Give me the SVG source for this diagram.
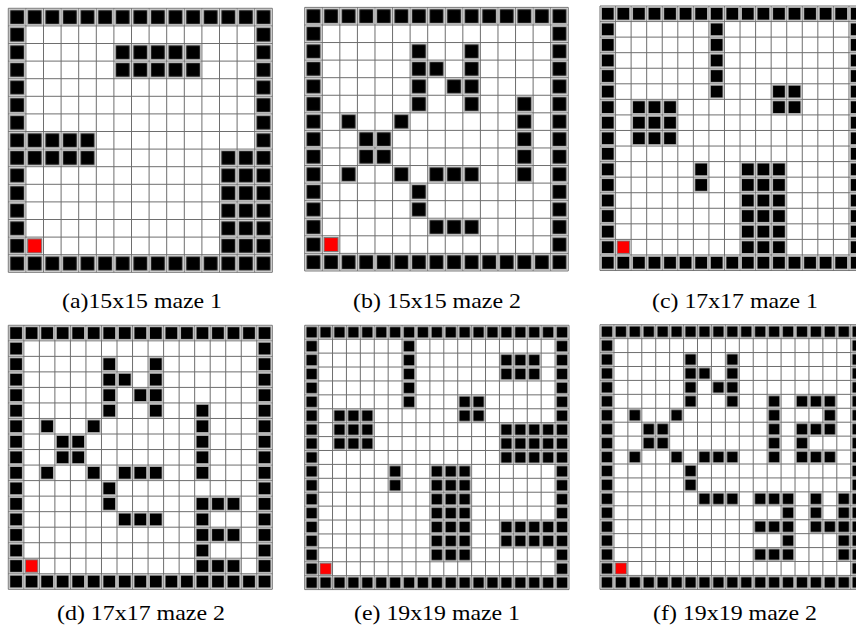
<svg xmlns="http://www.w3.org/2000/svg" xmlns:xlink="http://www.w3.org/1999/xlink" width="856" height="640" viewBox="0 0 856 640">
<style>
.blk{fill:url(#b)}
.red{fill:#ff0000;stroke:#7a7a7a;stroke-width:0.06}
.cap{font-family:"Liberation Serif","Times New Roman",serif;font-size:22px;fill:#000;text-anchor:middle}
</style>
<defs>
<pattern id="b" patternUnits="userSpaceOnUse" x="0" y="0" width="1" height="1">
<rect x="0.08" y="0.08" width="0.84" height="0.84" fill="#000" stroke="#b4b4b4" stroke-width="0.08"/>
</pattern>
<path id="g15" fill="none" stroke="#6e6e6e" stroke-width="1" vector-effect="non-scaling-stroke" d="M0 0V15M1 0V15M2 0V15M3 0V15M4 0V15M5 0V15M6 0V15M7 0V15M8 0V15M9 0V15M10 0V15M11 0V15M12 0V15M13 0V15M14 0V15M15 0V15M0 0H15M0 1H15M0 2H15M0 3H15M0 4H15M0 5H15M0 6H15M0 7H15M0 8H15M0 9H15M0 10H15M0 11H15M0 12H15M0 13H15M0 14H15M0 15H15"/>
<path id="g17" fill="none" stroke="#6e6e6e" stroke-width="1" vector-effect="non-scaling-stroke" d="M0 0V17M1 0V17M2 0V17M3 0V17M4 0V17M5 0V17M6 0V17M7 0V17M8 0V17M9 0V17M10 0V17M11 0V17M12 0V17M13 0V17M14 0V17M15 0V17M16 0V17M17 0V17M0 0H17M0 1H17M0 2H17M0 3H17M0 4H17M0 5H17M0 6H17M0 7H17M0 8H17M0 9H17M0 10H17M0 11H17M0 12H17M0 13H17M0 14H17M0 15H17M0 16H17M0 17H17"/>
<path id="g19" fill="none" stroke="#6e6e6e" stroke-width="1" vector-effect="non-scaling-stroke" d="M0 0V19M1 0V19M2 0V19M3 0V19M4 0V19M5 0V19M6 0V19M7 0V19M8 0V19M9 0V19M10 0V19M11 0V19M12 0V19M13 0V19M14 0V19M15 0V19M16 0V19M17 0V19M18 0V19M19 0V19M0 0H19M0 1H19M0 2H19M0 3H19M0 4H19M0 5H19M0 6H19M0 7H19M0 8H19M0 9H19M0 10H19M0 11H19M0 12H19M0 13H19M0 14H19M0 15H19M0 16H19M0 17H19M0 18H19M0 19H19"/>
</defs>
<rect x="0" y="0" width="856" height="640" fill="#fff"/>

<g id="maze-a" transform="translate(8.3 8.3) scale(17.6)">
<use href="#g15" xlink:href="#g15"/>
<g class="blk">
<rect x="0" y="0" width="15" height="1"/><rect x="0" y="14" width="15" height="1"/>
<rect x="0" y="1" width="1" height="13"/><rect x="14" y="1" width="1" height="13"/>
<rect x="6" y="2" width="5" height="2"/>
<rect x="1" y="7" width="4" height="2"/>
<rect x="12" y="8" width="2" height="6"/>
</g>
<rect class="red" x="1.1" y="13.1" width="0.8" height="0.8"/>
</g>

<g id="maze-b" transform="translate(304.7 7.4) scale(17.57)">
<use href="#g15" xlink:href="#g15"/>
<g class="blk">
<rect x="0" y="0" width="15" height="1"/><rect x="0" y="14" width="15" height="1"/>
<rect x="0" y="1" width="1" height="13"/><rect x="14" y="1" width="1" height="13"/>
<rect x="6" y="2" width="1" height="4"/><rect x="9" y="2" width="1" height="4"/>
<rect x="7" y="3" width="1" height="1"/><rect x="8" y="4" width="1" height="1"/>
<rect x="12" y="5" width="1" height="5"/>
<rect x="2" y="6" width="1" height="1"/><rect x="5" y="6" width="1" height="1"/>
<rect x="3" y="7" width="2" height="2"/>
<rect x="2" y="9" width="1" height="1"/><rect x="5" y="9" width="1" height="1"/>
<rect x="7" y="9" width="3" height="1"/>
<rect x="6" y="10" width="1" height="2"/>
<rect x="7" y="12" width="3" height="1"/>
</g>
<rect class="red" x="1.1" y="13.1" width="0.8" height="0.8"/>
</g>

<g id="maze-c" transform="translate(600 6) scale(15.56)">
<use href="#g17" xlink:href="#g17"/>
<g class="blk">
<rect x="0" y="0" width="17" height="1"/><rect x="0" y="16" width="17" height="1"/>
<rect x="0" y="1" width="1" height="15"/><rect x="16" y="1" width="1" height="15"/>
<rect x="7" y="1" width="1" height="5"/>
<rect x="11" y="5" width="2" height="2"/>
<rect x="2" y="6" width="3" height="3"/>
<rect x="6" y="10" width="1" height="2"/>
<rect x="9" y="10" width="3" height="6"/>
</g>
<rect class="red" x="1.1" y="15.1" width="0.8" height="0.8"/>
</g>

<g id="maze-d" transform="translate(8.3 325.3) scale(15.53)">
<use href="#g17" xlink:href="#g17"/>
<g class="blk">
<rect x="0" y="0" width="17" height="1"/><rect x="0" y="16" width="17" height="1"/>
<rect x="0" y="1" width="1" height="15"/><rect x="16" y="1" width="1" height="15"/>
<rect x="6" y="2" width="1" height="4"/><rect x="9" y="2" width="1" height="4"/>
<rect x="7" y="3" width="1" height="1"/><rect x="8" y="4" width="1" height="1"/>
<rect x="12" y="5" width="1" height="5"/>
<rect x="2" y="6" width="1" height="1"/><rect x="5" y="6" width="1" height="1"/>
<rect x="3" y="7" width="2" height="2"/>
<rect x="2" y="9" width="1" height="1"/><rect x="5" y="9" width="1" height="1"/>
<rect x="7" y="9" width="3" height="1"/>
<rect x="6" y="10" width="1" height="2"/>
<rect x="7" y="12" width="3" height="1"/>
<rect x="12" y="11" width="1" height="5"/>
<rect x="13" y="11" width="2" height="1"/><rect x="13" y="13" width="2" height="1"/><rect x="13" y="15" width="2" height="1"/>
</g>
<rect class="red" x="1.1" y="15.1" width="0.8" height="0.8"/>
</g>

<g id="maze-e" transform="translate(304.7 325.3) scale(13.91)">
<use href="#g19" xlink:href="#g19"/>
<g class="blk">
<rect x="0" y="0" width="19" height="1"/><rect x="0" y="18" width="19" height="1"/>
<rect x="0" y="1" width="1" height="17"/><rect x="18" y="1" width="1" height="17"/>
<rect x="7" y="1" width="1" height="5"/>
<rect x="14" y="2" width="3" height="2"/>
<rect x="11" y="5" width="2" height="2"/>
<rect x="2" y="6" width="3" height="3"/>
<rect x="14" y="7" width="4" height="3"/>
<rect x="6" y="10" width="1" height="2"/>
<rect x="9" y="10" width="3" height="7"/>
<rect x="14" y="14" width="4" height="2"/>
</g>
<rect class="red" x="1.1" y="17.1" width="0.8" height="0.8"/>
</g>

<g id="maze-f" transform="translate(600 324.7) scale(13.93)">
<use href="#g19" xlink:href="#g19"/>
<g class="blk">
<rect x="0" y="0" width="19" height="1"/><rect x="0" y="18" width="19" height="1"/>
<rect x="0" y="1" width="1" height="17"/><rect x="18" y="1" width="1" height="17"/>
<rect x="6" y="2" width="1" height="4"/><rect x="9" y="2" width="1" height="4"/>
<rect x="7" y="3" width="1" height="1"/><rect x="8" y="4" width="1" height="1"/>
<rect x="12" y="5" width="1" height="5"/>
<rect x="14" y="5" width="3" height="1"/><rect x="16" y="6" width="1" height="1"/>
<rect x="14" y="7" width="3" height="1"/><rect x="14" y="8" width="1" height="1"/>
<rect x="14" y="9" width="3" height="1"/>
<rect x="2" y="6" width="1" height="1"/><rect x="5" y="6" width="1" height="1"/>
<rect x="3" y="7" width="2" height="2"/>
<rect x="2" y="9" width="1" height="1"/><rect x="5" y="9" width="1" height="1"/>
<rect x="7" y="9" width="3" height="1"/>
<rect x="6" y="10" width="1" height="2"/>
<rect x="7" y="12" width="3" height="1"/>
<rect x="11" y="12" width="3" height="1"/>
<rect x="13" y="13" width="1" height="4"/>
<rect x="11" y="14" width="2" height="1"/><rect x="11" y="16" width="2" height="1"/>
<rect x="15" y="12" width="1" height="3"/><rect x="16" y="14" width="1" height="1"/>
<rect x="17" y="12" width="1" height="5"/>
</g>
<rect class="red" x="1.1" y="17.1" width="0.8" height="0.8"/>
</g>

<g id="captions">
<text class="cap" x="142" y="307.5" textLength="160" lengthAdjust="spacingAndGlyphs">(a)15x15 maze 1</text>
<text class="cap" x="437" y="307.5" textLength="168" lengthAdjust="spacingAndGlyphs">(b) 15x15 maze 2</text>
<text class="cap" x="735" y="307.5" textLength="166" lengthAdjust="spacingAndGlyphs">(c) 17x17 maze 1</text>
<text class="cap" x="141" y="619.5" textLength="168" lengthAdjust="spacingAndGlyphs">(d) 17x17 maze 2</text>
<text class="cap" x="437" y="619.5" textLength="166" lengthAdjust="spacingAndGlyphs">(e) 19x19 maze 1</text>
<text class="cap" x="735" y="619.5" textLength="164" lengthAdjust="spacingAndGlyphs">(f) 19x19 maze 2</text>
</g>
</svg>
